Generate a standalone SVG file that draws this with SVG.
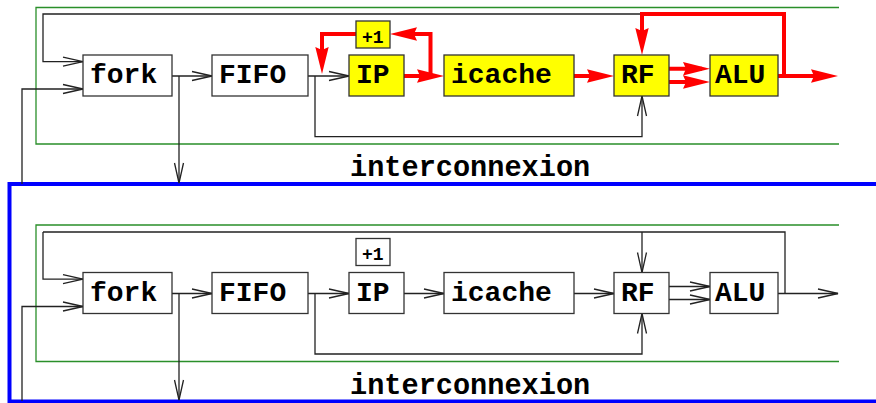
<svg xmlns="http://www.w3.org/2000/svg" width="876" height="403" viewBox="0 0 876 403">
<style>
.box{fill:#fff;stroke:#333;stroke-width:1.3}
.y{fill:#ffff00}
.lbl{font-family:"Liberation Mono","Courier New",monospace;font-weight:bold;font-size:28px;fill:#000}
.big{font-size:28.6px}
.small{font-family:"Liberation Mono","Courier New",monospace;font-weight:bold;font-size:18px;fill:#000}
.ln{fill:none;stroke:#222;stroke-width:1.3;marker-end:url(#ch)}
.lnp{fill:none;stroke:#222;stroke-width:1.3}
.red{fill:none;stroke:#ff0000;stroke-width:4;marker-end:url(#ra)}
.grn{fill:none;stroke:#2a8f2a;stroke-width:1.3}
</style>
<defs>
<marker id="ch" markerUnits="userSpaceOnUse" markerWidth="24" markerHeight="12" refX="20" refY="5" orient="auto" overflow="visible">
<path d="M0,0.5 L20,5 L0,9.5" fill="none" stroke="#222" stroke-width="1.3"/>
</marker>
<marker id="ra" markerUnits="userSpaceOnUse" markerWidth="30" markerHeight="16" refX="19" refY="6.7" orient="auto" overflow="visible">
<path d="M0,0 L27,6.7 L0,13.4 L3,6.7 z" fill="#ff0000"/>
</marker>
</defs>

<g id="frames">
<path class="grn" d="M839,7.5 H36 V144 H839"/>
<path class="grn" d="M839,225 H36 V361.5 H839"/>
<rect x="9.5" y="184" width="890" height="217.5" fill="none" stroke="#0000ff" stroke-width="4"/>
</g>

<g id="connectors">
<path class="ln" d="M642,14 H43 V61.7 H83"/>
<path class="ln" d="M22,184 V89 H83"/>
<path class="ln" d="M172,76 H212"/>
<path class="ln" d="M179,76 V183"/>
<path class="ln" d="M308,76 H349"/>
<path class="ln" d="M315,76 V136.7 H642 V96"/>
<path class="red" d="M404,76 H436"/>
<path class="red" d="M430.5,76 V34 H398"/>
<path class="red" d="M356,34 H322 V66"/>
<path class="red" d="M574,76 H606"/>
<path class="red" d="M669,68.7 H702"/>
<path class="red" d="M669,82 H702"/>
<path class="red" d="M778,76 H830"/>
<path class="red" d="M784,76 V14 H642 V47"/>
<path class="lnp" d="M785,293.5 V232 H43"/>
<path class="ln" d="M43,232 V279.2 H83"/>
<path class="ln" d="M642,232 V272.5"/>
<path class="ln" d="M22,401 V306.5 H83"/>
<path class="ln" d="M172,293.5 H212"/>
<path class="ln" d="M179,293.5 V400"/>
<path class="ln" d="M308,293.5 H349"/>
<path class="ln" d="M315,293.5 V354 H642 V313.5"/>
<path class="ln" d="M404,293.5 H444"/>
<path class="ln" d="M574,293.5 H614"/>
<path class="ln" d="M669,286.5 H710"/>
<path class="ln" d="M669,299.5 H710"/>
<path class="ln" d="M778,293.5 H838"/>
</g>

<g id="fork1"><rect class="box" x="83" y="55" width="89" height="41"/><text class="lbl" x="90" y="83">fork</text></g>
<g id="fifo1"><rect class="box" x="212" y="55" width="96" height="41"/><text class="lbl" x="219" y="83">FIFO</text></g>
<g id="ip1"><rect class="box y" x="349" y="55" width="55" height="41"/><text class="lbl" x="356" y="83">IP</text></g>
<g id="inc1"><rect class="box y" x="356" y="21" width="34" height="27"/><text class="small" x="362" y="42.5">+1</text></g>
<g id="icache1"><rect class="box y" x="444" y="55" width="130" height="41"/><text class="lbl" x="451" y="83">icache</text></g>
<g id="rf1"><rect class="box y" x="614" y="55" width="55" height="41"/><text class="lbl" x="621" y="83">RF</text></g>
<g id="alu1"><rect class="box y" x="710" y="55" width="68" height="41"/><text class="lbl" x="715" y="83">ALU</text></g>
<g id="inter1"><text class="lbl big" x="350" y="176">interconnexion</text></g>

<g id="fork2"><rect class="box" x="83" y="272.5" width="89" height="41"/><text class="lbl" x="90" y="300.5">fork</text></g>
<g id="fifo2"><rect class="box" x="212" y="272.5" width="96" height="41"/><text class="lbl" x="219" y="300.5">FIFO</text></g>
<g id="ip2"><rect class="box" x="349" y="272.5" width="55" height="41"/><text class="lbl" x="356" y="300.5">IP</text></g>
<g id="inc2"><rect class="box" x="356" y="238.5" width="34" height="27"/><text class="small" x="362" y="260">+1</text></g>
<g id="icache2"><rect class="box" x="444" y="272.5" width="130" height="41"/><text class="lbl" x="451" y="300.5">icache</text></g>
<g id="rf2"><rect class="box" x="614" y="272.5" width="55" height="41"/><text class="lbl" x="621" y="300.5">RF</text></g>
<g id="alu2"><rect class="box" x="710" y="272.5" width="68" height="41"/><text class="lbl" x="715" y="300.5">ALU</text></g>
<g id="inter2"><text class="lbl big" x="350" y="393.5">interconnexion</text></g>
</svg>
